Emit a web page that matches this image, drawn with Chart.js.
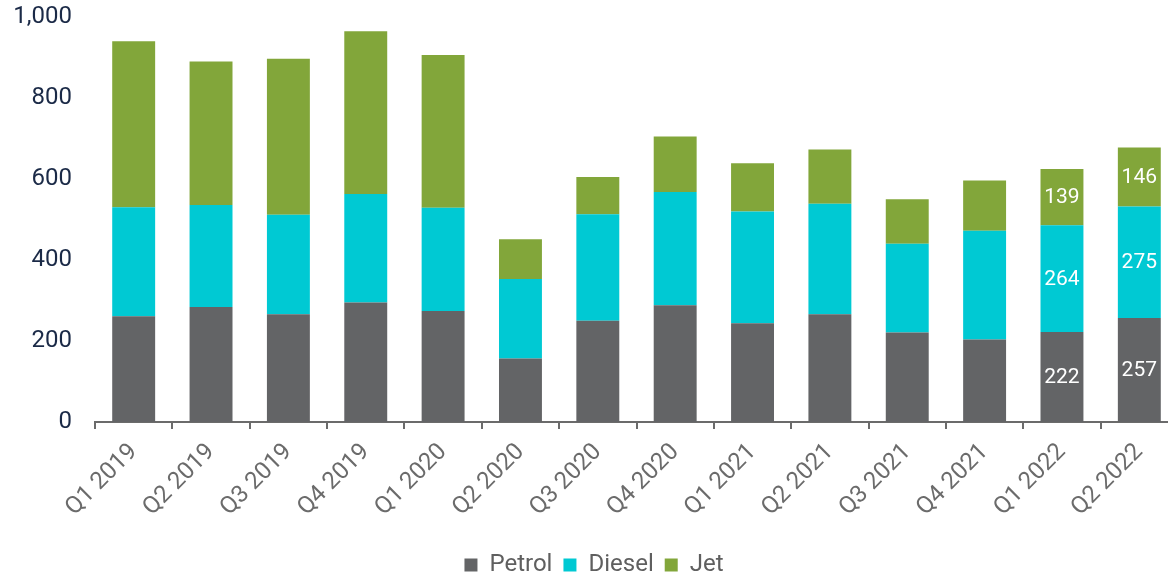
<!DOCTYPE html>
<html>
<head>
<meta charset="utf-8">
<script src="https://cdn.jsdelivr.net/npm/chart.js@4.4.1/dist/chart.umd.min.js"></script>
<style>
  html, body { margin: 0; padding: 0; background: #fff; overflow: hidden; }
  #wrap { width: 1180px; height: 576px; position: relative; }
</style>
</head>
<body>
<div id="wrap"><canvas id="fuelChart"></canvas></div>
<script>
const quarters = ['Q1 2019', 'Q2 2019', 'Q3 2019', 'Q4 2019', 'Q1 2020', 'Q2 2020', 'Q3 2020',
  'Q4 2020', 'Q1 2021', 'Q2 2021', 'Q3 2021', 'Q4 2021', 'Q1 2022', 'Q2 2022'];
const petrol = [261, 284, 266, 295, 274, 157, 250, 288, 244, 266, 221, 204, 222, 257];
const diesel = [269, 252, 246, 268, 255, 196, 263, 280, 276, 273, 219, 268, 264, 275];
const jet    = [410, 354, 385, 402, 377, 98, 92, 137, 119, 134, 110, 124, 139, 146];
const yTicks = [0, 200, 400, 600, 800, 1000];
// only the last two bars carry value labels
const labelledBars = [12, 13];

// white numbers in the middle of each segment
const segmentLabels = {
  id: 'segmentLabels',
  afterDatasetsDraw(chart) {
    const ctx = chart.ctx;
    ctx.save();
    ctx.fillStyle = '#ffffff';
    ctx.font = '21px Roboto';
    ctx.textAlign = 'center';
    ctx.textBaseline = 'middle';
    chart.data.datasets.forEach((ds, di) => {
      const meta = chart.getDatasetMeta(di);
      labelledBars.forEach(i => {
        const bar = meta.data[i];
        ctx.fillText(String(ds.data[i]), bar.x, (bar.y + bar.base) / 2 + 1);
      });
    });
    ctx.restore();
  }
};

const ctx = document.getElementById('fuelChart').getContext('2d');
const fuelChart = new Chart(ctx, {
  type: 'bar',
  data: {
    labels: quarters,
    datasets: [
      { label: 'Petrol', data: petrol, backgroundColor: '#636466' },
      { label: 'Diesel', data: diesel, backgroundColor: '#00C9D3' },
      { label: 'Jet', data: jet, backgroundColor: '#82A63A' }
    ]
  },
  options: {
    responsive: true,
    maintainAspectRatio: false,
    animation: false,
    categoryPercentage: 1,
    barPercentage: 0.555,
    layout: { padding: { left: 10, top: 17, right: 2, bottom: -11 } },
    datasets: { bar: { borderWidth: 0 } },
    scales: {
      x: {
        stacked: true,
        border: { display: true, color: '#6b6b6b', width: 2 },
        grid: { display: true, drawOnChartArea: false, drawTicks: true, tickLength: 7, offset: true, color: '#6b6b6b', lineWidth: 2 },
        afterFit: axis => {
          axis.height = 120;
          axis.paddingLeft = 0;
          axis.paddingRight = 0;
        },
        ticks: {
          color: '#6b6b6b',
          font: { family: 'Roboto', size: 24 },
          minRotation: 45,
          maxRotation: 45,
          padding: 9
        }
      },
      y: {
        stacked: true,
        min: 0,
        max: 1000,
        border: { display: false },
        grid: { display: false, drawTicks: false },
        afterFit: axis => {
          axis.width = 85;
          axis.paddingTop = 0;
          axis.paddingBottom = 0;
        },
        afterBuildTicks: axis => { axis.ticks = yTicks.map(v => ({ value: v })); },
        ticks: {
          color: '#1b2a47',
          font: { family: 'Roboto', size: 24 },
          padding: 23,
          callback: v => v.toLocaleString('en-US')
        }
      }
    },
    plugins: {
      legend: {
        position: 'bottom',
        labels: {
          color: '#5f5f5f',
          font: { family: 'Roboto', size: 24 },
          boxWidth: 13,
          boxHeight: 13,
          padding: 11
        }
      },
      tooltip: { enabled: false }
    }
  },
  plugins: [segmentLabels]
});
</script>
</body>
</html>
